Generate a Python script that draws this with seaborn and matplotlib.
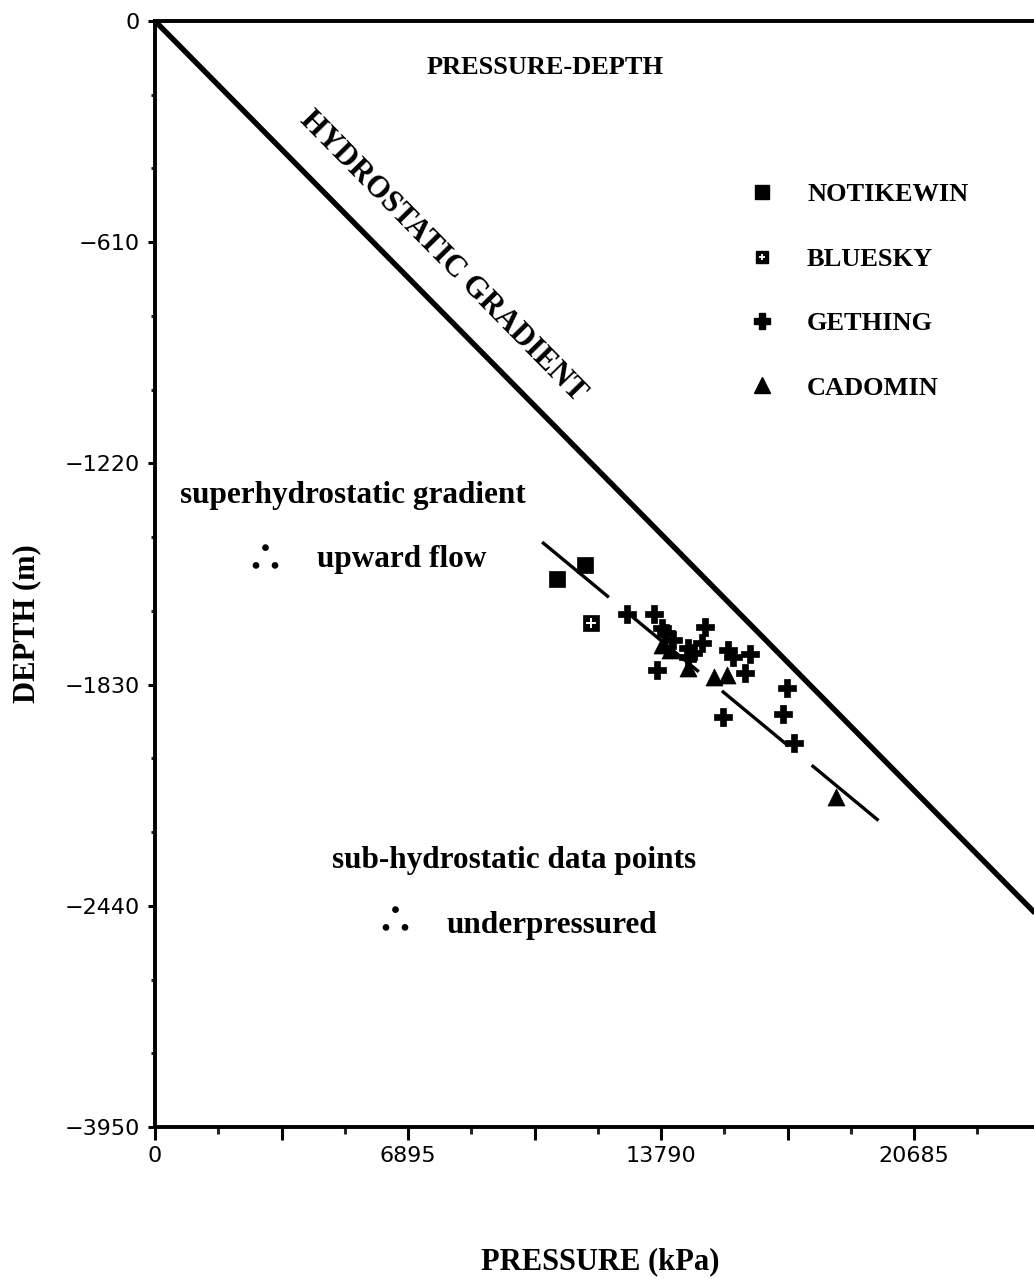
"""Pressure-depth plot: formation pressures vs depth against the hydrostatic gradient."""

import matplotlib.pyplot as plt
import numpy as np
import pandas as pd
import seaborn as sns
from matplotlib.legend_handler import HandlerTuple
from matplotlib.lines import Line2D
from matplotlib.ticker import FixedLocator, MultipleLocator

sns.set_theme(style="white")
plt.rcParams["font.family"] = ["Liberation Serif", "DejaVu Serif"]
plt.rcParams["text.color"] = "black"
plt.rcParams["axes.labelcolor"] = "black"

# pressure (kPa) / depth (m) readings per formation
NOTIKEWIN_P = [11720, 10960]
NOTIKEWIN_D = [-1500, -1540]

BLUESKY_P = [11880]
BLUESKY_D = [-1660]

GETHING_P = [12860, 13600, 13820, 13930, 14120, 14990, 14910, 13680, 14530,
             14660, 14530, 15620, 15750, 16220, 16080, 17220, 17120, 15480, 17420]
GETHING_D = [-1635, -1635, -1674, -1688, -1707, -1671, -1715, -1790, -1729,
             -1743, -1754, -1735, -1754, -1746, -1798, -1839, -1911, -1919, -1991]

CADOMIN_P = [13820, 14040, 14530, 15230, 15590, 18560]
CADOMIN_D = [-1721, -1735, -1784, -1809, -1804, -2140]

HYDRO_P = [0, 24500]
HYDRO_D = [0, -2513]

TREND_P = [10550, 19970]
TREND_D = [-1437, -2226]

FORMATIONS = ["NOTIKEWIN", "BLUESKY", "GETHING", "CADOMIN"]

Y_TICKS = [0, -610, -1220, -1830, -2440, -3050]
Y_LABELS = ["0", "\u2212610", "\u22121220", "\u22121830", "\u22122440", "\u22123950"]
X_TICKS = [0, 3447.5, 6895, 10342.5, 13790, 17237.5, 20685]
X_LABELS = ["0", "", "6895", "", "13790", "", "20685"]

df = pd.concat([
    pd.DataFrame({"pressure": NOTIKEWIN_P, "depth": NOTIKEWIN_D, "formation": "NOTIKEWIN"}),
    pd.DataFrame({"pressure": BLUESKY_P, "depth": BLUESKY_D, "formation": "BLUESKY"}),
    pd.DataFrame({"pressure": GETHING_P, "depth": GETHING_D, "formation": "GETHING"}),
    pd.DataFrame({"pressure": CADOMIN_P, "depth": CADOMIN_D, "formation": "CADOMIN"}),
], ignore_index=True)

markers = {"NOTIKEWIN": "s", "BLUESKY": "s", "GETHING": "P", "CADOMIN": "^"}
sizes = {"NOTIKEWIN": 135, "BLUESKY": 120, "GETHING": 170, "CADOMIN": 150}

fig = plt.figure(figsize=(10.34, 12.79), dpi=100)
ax = fig.add_axes([155 / 1034, 1 - 1127 / 1279, 879 / 1034, 1106 / 1279])

# hydrostatic gradient and dashed trend through the data
ax.plot(HYDRO_P, HYDRO_D, color="black", lw=3.9, solid_capstyle="butt")
ax.plot(TREND_P, TREND_D, color="black", lw=2.4, ls=(0, (26, 9)))

for name in FORMATIONS:
    sub = df[df["formation"] == name]
    sns.scatterplot(data=sub, x="pressure", y="depth", marker=markers[name],
                    s=sizes[name], color="black", edgecolor="black", linewidth=0.5,
                    ax=ax, legend=False, zorder=3)
# white inner marks of the bluesky squares
sub = df[df["formation"] == "BLUESKY"]
ax.scatter(sub["pressure"], sub["depth"], marker="+", s=45, color="white",
           linewidths=1.4, zorder=4)

ax.set_xlim(0, 23955)
ax.set_ylim(-3050, 0)

ax.xaxis.set_major_locator(FixedLocator(X_TICKS))
ax.set_xticklabels(X_LABELS)
ax.xaxis.set_minor_locator(MultipleLocator(1723.75))
ax.set_yticks(Y_TICKS)
ax.set_yticklabels(Y_LABELS)
ax.yaxis.set_minor_locator(MultipleLocator(610 / 3))

for lab in ax.get_xticklabels() + ax.get_yticklabels():
    lab.set_fontfamily("DejaVu Sans")
    lab.set_fontsize(16)

ax.tick_params(axis="x", which="major", direction="out", length=9, width=2.2, pad=5,
               bottom=True)
ax.tick_params(axis="x", which="minor", direction="out", length=5, width=2.2, bottom=True)
ax.tick_params(axis="y", which="major", direction="out", length=5, width=2.2, pad=6,
               left=True)
ax.tick_params(axis="y", which="minor", direction="out", length=3, width=2.2, left=True)
ax.tick_params(colors="black")

for side in ["left", "bottom", "top"]:
    ax.spines[side].set_linewidth(2.8)
    ax.spines[side].set_color("black")
ax.spines["right"].set_visible(False)

ax.set_xlabel("PRESSURE (kPa)", fontsize=22, fontweight="bold")
ax.xaxis.set_label_coords(0.506, -0.122)
ax.xaxis.label.set_va("center")
ax.set_ylabel("DEPTH (m)", fontsize=22, fontweight="bold")
ax.yaxis.set_label_coords(-0.146, 0.455)
ax.yaxis.label.set_va("center")

ax.text(0.444, 0.958, "PRESSURE-DEPTH", transform=ax.transAxes, ha="center",
        va="center", fontsize=19, fontweight="bold")
ax.text(7850, -650, "HYDROSTATIC GRADIENT", ha="center", va="center", rotation=-45.5,
        rotation_mode="anchor", fontsize=22, fontweight="bold")

dots_font = ["Noto Sans CJK JP", "DejaVu Sans"]
ax.text(0.028, 0.571, "superhydrostatic gradient", transform=ax.transAxes, ha="left",
        va="center", fontsize=22.5, fontweight="bold")
ax.text(0.125, 0.513, "\u2234", transform=ax.transAxes, ha="center", va="center",
        fontsize=28, fontweight="bold", family=dots_font)
ax.text(0.184, 0.513, "upward flow", transform=ax.transAxes, ha="left",
        va="center", fontsize=22.5, fontweight="bold")
ax.text(0.201, 0.241, "sub-hydrostatic data points", transform=ax.transAxes, ha="left",
        va="center", fontsize=22.5, fontweight="bold")
ax.text(0.273, 0.186, "\u2234", transform=ax.transAxes, ha="center", va="center",
        fontsize=28, fontweight="bold", family=dots_font)
ax.text(0.332, 0.182, "underpressured", transform=ax.transAxes, ha="left",
        va="center", fontsize=22.5, fontweight="bold")

handles = [
    Line2D([], [], ls="", marker="s", ms=10, color="black"),
    (Line2D([], [], ls="", marker="s", ms=9, color="black"),
     Line2D([], [], ls="", marker="+", ms=5, mew=1.3, color="white")),
    Line2D([], [], ls="", marker="P", ms=11, color="black"),
    Line2D([], [], ls="", marker="^", ms=11, color="black"),
]

ax.legend(handles, FORMATIONS, loc="upper left", bbox_to_anchor=(749 / 1034, 1 - 183 / 1279),
          bbox_transform=fig.transFigure, frameon=False, handlelength=1.0,
          handletextpad=1.2, labelspacing=1.55, borderpad=0, borderaxespad=0,
          prop={"size": 19, "weight": "bold"},
          handler_map={tuple: HandlerTuple(ndivide=1, pad=0)})

fig.savefig("out.png", dpi=100)
